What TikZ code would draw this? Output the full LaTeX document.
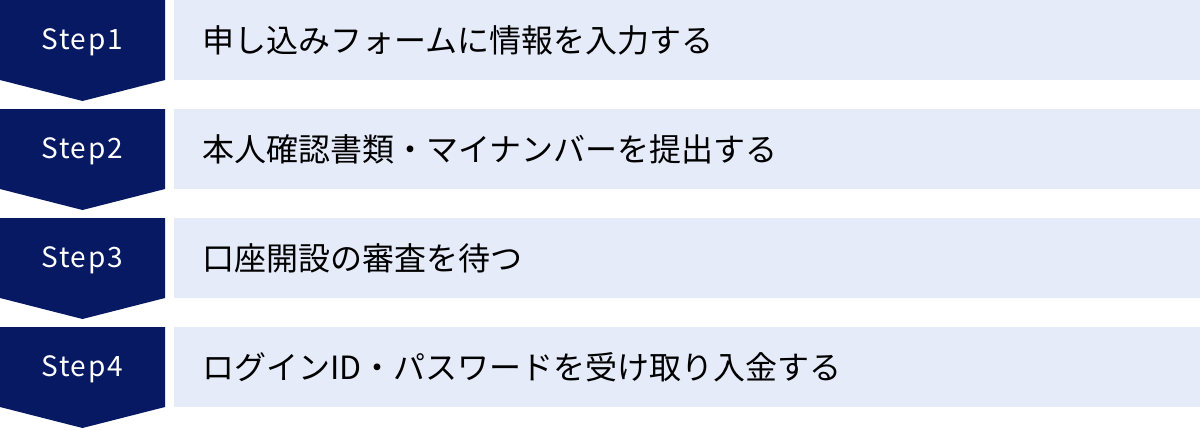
\documentclass[tikz,border=0pt]{standalone}
\usepackage{fontspec}
\setmainfont{Noto Sans CJK JP}
\definecolor{navy}{RGB}{6,25,98}
\definecolor{pale}{RGB}{229,235,249}
\tikzset{
  stepshape/.style={fill=navy, draw=none},
  steplabel/.style={text=white, font=\fontsize{28}{32}\selectfont\addfontfeature{LetterSpace=6}, inner sep=0pt, anchor=center},
  bar/.style={fill=pale, draw=none},
  bartext/.style={text=black, font=\fontsize{32}{36}\selectfont, inner sep=0pt, anchor=west},
}
\begin{document}
\begin{tikzpicture}[x=1pt,y=-1pt]
\useasboundingbox (0,0) rectangle (1200,429);
\foreach \i/\t in {0/申し込みフォームに情報を入力する,1/本人確認書類・マイナンバーを提出する,2/口座開設の審査を待つ,3/ログインID・パスワードを受け取り入金する}{
  \pgfmathsetmacro{\y}{\i*109}
  \fill[stepshape] (0,\y) -- (165,\y) -- (165,\y+80) -- (82.5,\y+101) -- (0,\y+80) -- cycle;
  \fill[bar] (174,\y) rectangle (1200,\y+80);
  \pgfmathtruncatemacro{\n}{\i+1}
  \node[steplabel] (s\n) at (82,\y+42) {Step\n};
  \node[bartext] (t\n) at (202,\y+40) {\t};
}
\end{tikzpicture}
\end{document}
